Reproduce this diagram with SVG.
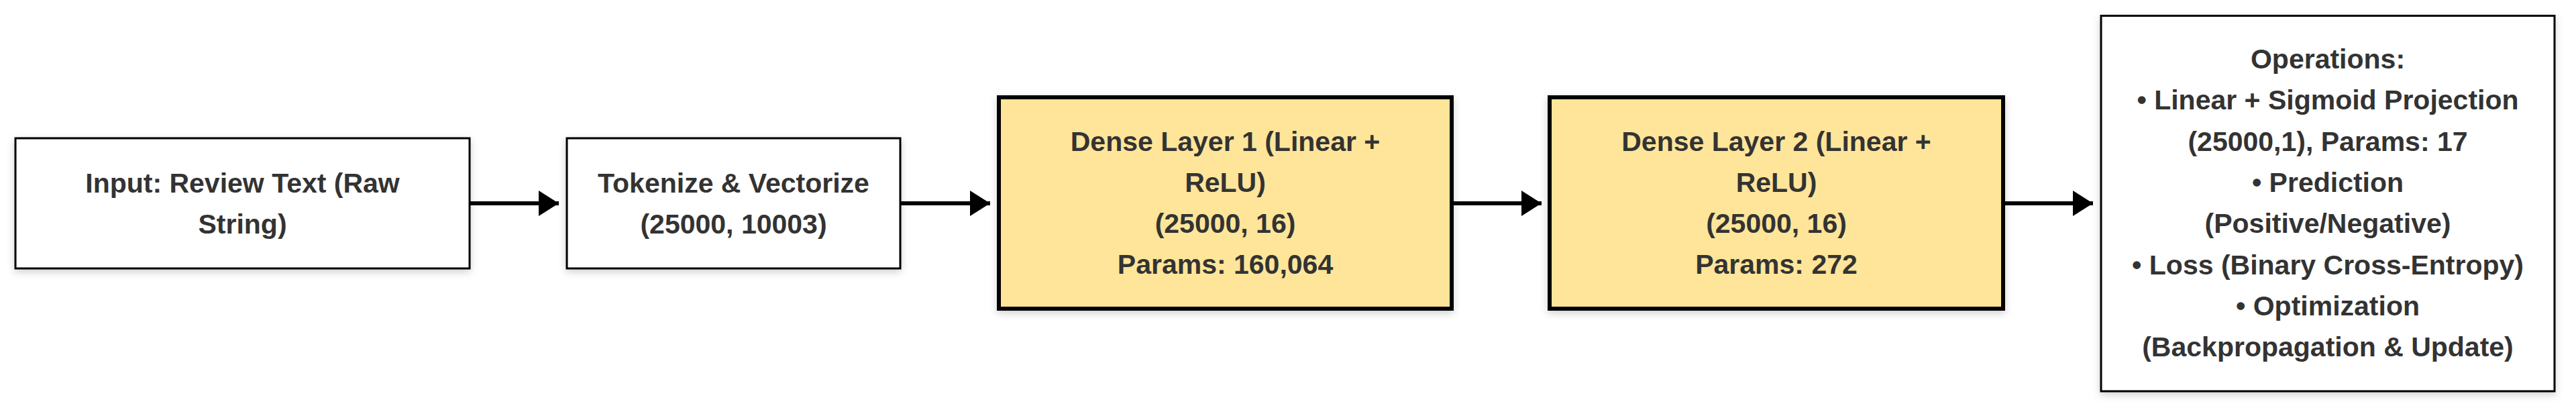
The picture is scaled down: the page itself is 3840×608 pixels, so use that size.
<svg xmlns="http://www.w3.org/2000/svg" width="3840" height="608" viewBox="0 0 3840 608">
  <defs>
    <filter id="shadow" x="-10%" y="-10%" width="120%" height="130%">
      <feDropShadow dx="0" dy="4" stdDeviation="6" flood-color="#000" flood-opacity="0.18"/>
    </filter>
    <marker id="arrow" markerUnits="userSpaceOnUse" markerWidth="30" markerHeight="38" refX="30" refY="19" orient="auto">
      <path d="M0,0 L30,19 L0,38 Z" fill="#000"/>
    </marker>
  </defs>
  <style>
    .plain { fill: #ffffff; stroke: #000; stroke-width: 3; }
    .layer { fill: #ffe599; stroke: #000; stroke-width: 6; }
    .lbl { font-family: "Liberation Sans", Arial, sans-serif; font-weight: bold; font-size: 41px; fill: #333333; text-anchor: middle; }
    .edge { stroke: #000; stroke-width: 6; fill: none; marker-end: url(#arrow); }
  </style>
  <rect width="3840" height="608" fill="#ffffff"/>

  <g id="connectors">
    <line class="edge" x1="700" y1="303" x2="833" y2="303"/>
    <line class="edge" x1="1342" y1="303" x2="1476" y2="303"/>
    <line class="edge" x1="2164" y1="303" x2="2298" y2="303"/>
    <line class="edge" x1="2986" y1="303" x2="3120" y2="303"/>
  </g>

  <g id="node-input">
    <rect class="plain" x="23" y="206" width="677" height="194" filter="url(#shadow)"/>
    <text class="lbl" x="361.5" y="287">Input: Review Text (Raw</text>
    <text class="lbl" x="361.5" y="348">String)</text>
  </g>

  <g id="node-tokenize">
    <rect class="plain" x="845" y="206" width="497" height="194" filter="url(#shadow)"/>
    <text class="lbl" x="1093.5" y="287">Tokenize &amp; Vectorize</text>
    <text class="lbl" x="1093.5" y="348">(25000, 10003)</text>
  </g>

  <g id="node-dense1">
    <rect class="layer" x="1489" y="145" width="675" height="315" filter="url(#shadow)"/>
    <text class="lbl" x="1826.5" y="225">Dense Layer 1 (Linear +</text>
    <text class="lbl" x="1826.5" y="286">ReLU)</text>
    <text class="lbl" x="1826.5" y="347">(25000, 16)</text>
    <text class="lbl" x="1826.5" y="408">Params: 160,064</text>
  </g>

  <g id="node-dense2">
    <rect class="layer" x="2310" y="145" width="676" height="315" filter="url(#shadow)"/>
    <text class="lbl" x="2648" y="225">Dense Layer 2 (Linear +</text>
    <text class="lbl" x="2648" y="286">ReLU)</text>
    <text class="lbl" x="2648" y="347">(25000, 16)</text>
    <text class="lbl" x="2648" y="408">Params: 272</text>
  </g>

  <g id="node-operations">
    <rect class="plain" x="3132" y="23.5" width="676" height="559.5" filter="url(#shadow)"/>
    <text class="lbl" x="3470" y="102">Operations:</text>
    <text class="lbl" x="3470" y="163.3">• Linear + Sigmoid Projection</text>
    <text class="lbl" x="3470" y="224.6">(25000,1), Params: 17</text>
    <text class="lbl" x="3470" y="285.9">• Prediction</text>
    <text class="lbl" x="3470" y="347.2">(Positive/Negative)</text>
    <text class="lbl" x="3470" y="408.5">• Loss (Binary Cross-Entropy)</text>
    <text class="lbl" x="3470" y="469.8">• Optimization</text>
    <text class="lbl" x="3470" y="531.1">(Backpropagation &amp; Update)</text>
  </g>
</svg>
